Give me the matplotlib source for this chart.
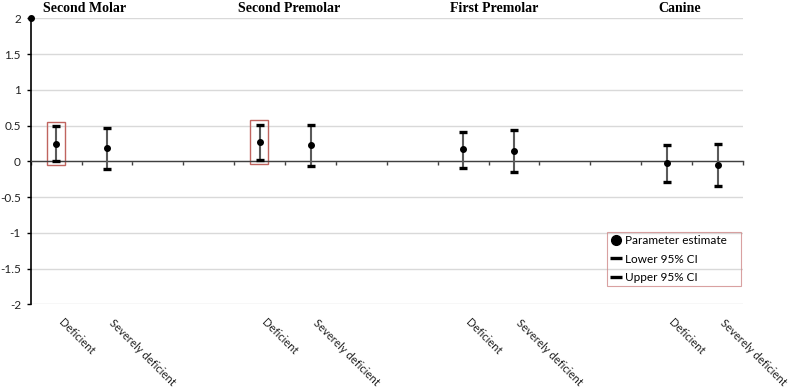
import numpy as np
import matplotlib
matplotlib.use('Agg')
import matplotlib.pyplot as plt
from matplotlib.patches import Rectangle
from matplotlib.transforms import blended_transform_factory, ScaledTranslation
from matplotlib.ticker import FuncFormatter

# ---------------- data ----------------
groups = ['Second Molar', 'Second Premolar', 'First Premolar', 'Canine']
group_members = [[0, 1], [4, 5], [8, 9], [12, 13]]
categories = ['Deficient', 'Severely deficient', '', '',
              'Deficient', 'Severely deficient', '', '',
              'Deficient', 'Severely deficient', '', '',
              'Deficient', 'Severely deficient']
nan = np.nan
estimate = [0.245, 0.185, nan, nan, 0.275, 0.225, nan, nan,
            0.168, 0.144, nan, nan, -0.024, -0.056]
lower = [0.0, -0.108, nan, nan, 0.022, -0.061, nan, nan,
         -0.094, -0.145, nan, nan, -0.29, -0.345]
upper = [0.49, 0.46, nan, nan, 0.512, 0.503, nan, nan,
         0.405, 0.438, nan, nan, 0.224, 0.242]
highlighted = [0, 4]
legend_labels = ['Parameter estimate', 'Lower 95% CI', 'Upper 95% CI']
y_ticks = [-2, -1.5, -1, -0.5, 0, 0.5, 1, 1.5, 2]

# layout tweak for title placement (category units)
title_shift = [0.05, 0.08, 0.1, -0.25]

# ---------------- figure ----------------
W, H = 791, 388
fig = plt.figure(figsize=(W / 100, H / 100), dpi=100)
ax = fig.add_axes([30.7 / W, 1 - 304.3 / H, (743 - 30.7) / W, (304.3 - 18.3) / H])

x = np.arange(len(categories))
est = np.array(estimate)
lo = np.array(lower)
up = np.array(upper)

sans = ['Lato', 'DejaVu Sans']

ax.vlines(x, lo, up, color='#5a5a5a', lw=1.5, zorder=3)
l_lo, = ax.plot(x, lo, ls='none', marker='_', ms=5.5, mew=2.4, color='black', zorder=4)
l_up, = ax.plot(x, up, ls='none', marker='_', ms=5.5, mew=2.4, color='black', zorder=4)
l_est, = ax.plot(x, est, ls='none', marker='o', ms=4, color='black', zorder=5)

for i in highlighted:
    ax.add_patch(Rectangle((i - 0.18, lo[i] - 0.055), 0.35, (up[i] - lo[i]) + 0.115,
                           fill=False, edgecolor='#c0645f', lw=1.0, zorder=2))

ax.set_xlim(-0.5, len(categories) - 0.5)
ax.set_ylim(-2, 2)
ax.set_yticks(y_ticks)
ax.yaxis.set_major_formatter(FuncFormatter(lambda v, p: ('%g' % v)))
ax.yaxis.grid(True, color='#d9d9d9', lw=1.0)
ax.set_axisbelow(True)

for s in ['top', 'right']:
    ax.spines[s].set_visible(False)
ax.spines['left'].set_color('black')
ax.spines['left'].set_linewidth(1.2)
ax.spines['bottom'].set_position(('data', 0))
ax.spines['bottom'].set_color('#404040')
ax.spines['bottom'].set_linewidth(1.0)

ax.set_xticks(np.arange(-0.5, len(categories), 1.0))
ax.set_xticklabels([])
ax.tick_params(axis='x', direction='out', length=3, width=1, color='#404040')
ax.tick_params(axis='y', direction='out', length=3, width=1, color='black',
               labelsize=8.5, pad=4)
for t in ax.get_yticklabels():
    t.set_fontfamily(sans)
    t.set_color('#222222')

# category labels under the plot
trans = blended_transform_factory(ax.transData, ax.transAxes) + \
    ScaledTranslation(8.0 / 100, -12.5 / 100, fig.dpi_scale_trans)
for i, lab in enumerate(categories):
    if lab:
        ax.text(i, 0, lab, transform=trans, rotation=-45, rotation_mode='anchor',
                ha='left', va='top', fontsize=8.1, family=sans, color='#222222')

# group titles
ttrans = blended_transform_factory(ax.transData, fig.transFigure)
for g, mem, sh in zip(groups, group_members, title_shift):
    ax.text(np.mean(mem) + sh, 1 - 12 / H, g, transform=ttrans, ha='center', va='baseline',
            fontsize=10, fontweight='bold', family=['Liberation Serif', 'DejaVu Serif'])

# dot at top of the vertical axis
xl, yl = ax.get_xlim(), ax.get_ylim()
ax.plot([xl[0]], [yl[1]], marker='o', ms=4, color='black', clip_on=False, zorder=6)

leg = ax.legend([l_est, l_lo, l_up], legend_labels, loc='upper left',
                bbox_to_anchor=(0.809, 0.0675, 0.188, 0.1855), mode='expand',
                borderaxespad=0, prop={'family': sans, 'size': 8.5},
                frameon=True, fancybox=False, edgecolor='#d08a8a', facecolor='none',
                handlelength=0.9, handletextpad=0.3, labelspacing=0.6,
                borderpad=0.3)
leg.get_frame().set_linewidth(0.8)
leg.legend_handles[0].set_markersize(7)
leg.legend_handles[1].set_markersize(8)
leg.legend_handles[2].set_markersize(8)

fig.savefig('out.png', dpi=100)
